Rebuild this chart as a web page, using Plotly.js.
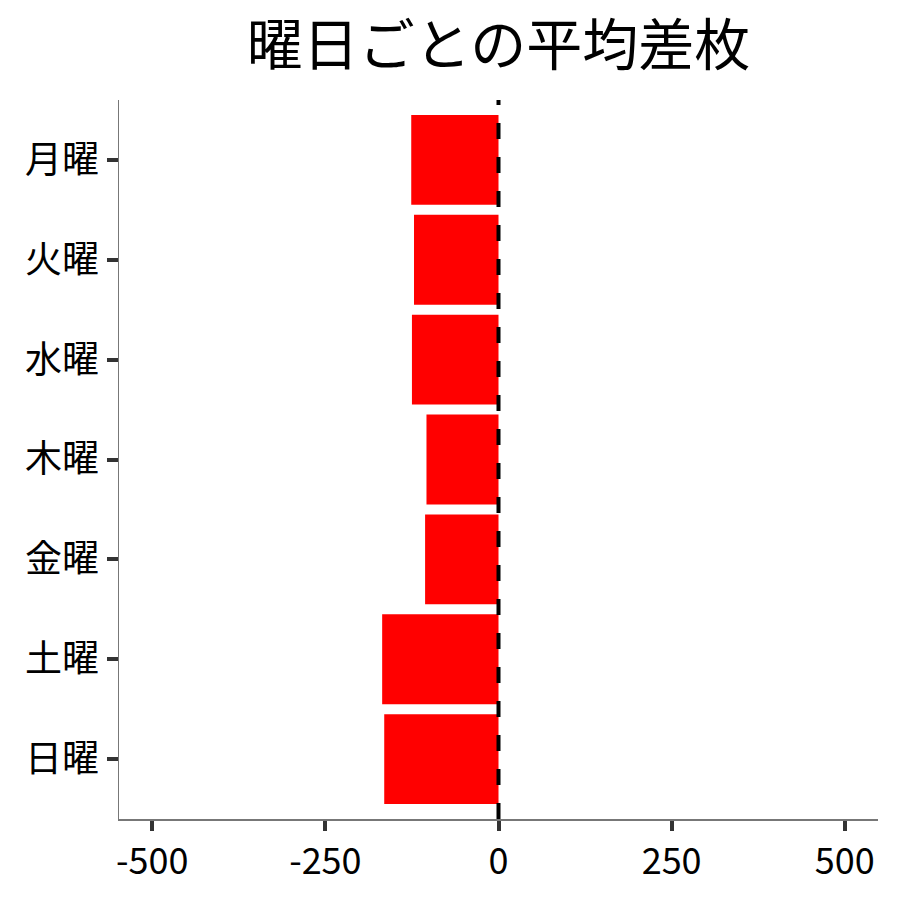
<!DOCTYPE html>
<html>
<head>
<meta charset="utf-8">
<script src="https://cdn.plot.ly/plotly-3.0.1.min.js"></script>
<style>
  body { margin: 0; background: #fff; }
  #chart { width: 900px; height: 900px; }
</style>
</head>
<body>
<div id="chart"></div>
<script>
// 曜日ごとの平均差枚
var days = ['月曜', '火曜', '水曜', '木曜', '金曜', '土曜', '日曜'];
var avgDiff = [-126, -122, -125, -104, -106, -168, -165];
var xTicks = [-500, -250, 0, 250, 500];

var font = '"Noto Sans CJK JP", "Noto Sans", sans-serif';

var trace = {
  type: 'bar',
  orientation: 'h',
  y: days,
  x: avgDiff,
  width: 0.9,
  marker: { color: '#ff0000', line: { width: 0 } },
  hoverinfo: 'x+y'
};

var layout = {
  width: 900,
  height: 900,
  paper_bgcolor: '#fff',
  plot_bgcolor: '#fff',
  font: { family: font, color: '#000' },
  title: {
    text: '曜日ごとの平均差枚',
    font: { family: font, size: 56, color: '#000' },
    x: 0.5, xref: 'paper', xanchor: 'center',
    y: 0.95, yref: 'container', yanchor: 'middle'
  },
  margin: { l: 119, r: 22, t: 100, b: 81, pad: 0 },
  xaxis: {
    range: [-548, 548],
    tickvals: xTicks,
    ticktext: xTicks.map(String),
    showgrid: false,
    zeroline: false,
    showline: true,
    linecolor: '#777',
    linewidth: 1.5,
    ticks: 'outside',
    ticklen: 10,
    tickwidth: 4,
    tickcolor: '#333',
    tickfont: { family: font, size: 36, color: '#000' }
  },
  yaxis: {
    type: 'category',
    categoryorder: 'array',
    categoryarray: days.slice().reverse(),
    range: [-0.6, 6.6],
    showgrid: false,
    zeroline: false,
    showline: true,
    linecolor: '#777',
    linewidth: 1.5,
    ticks: 'outside',
    ticklen: 11,
    tickwidth: 4,
    tickcolor: '#333',
    tickfont: { family: font, size: 37, color: '#000' }
  },
  shapes: [{
    type: 'line',
    xref: 'x', yref: 'paper',
    x0: 0, x1: 0, y0: 0, y1: 1,
    line: { color: '#000', width: 4, dash: '16px,18px' }
  }],
  showlegend: false
};

Plotly.newPlot('chart', [trace], layout, { displayModeBar: false, staticPlot: true });
</script>
</body>
</html>
